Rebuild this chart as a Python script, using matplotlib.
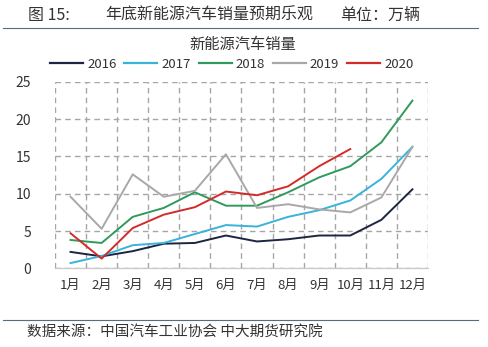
import matplotlib
matplotlib.use("Agg")
import matplotlib.pyplot as plt
from matplotlib.lines import Line2D
from matplotlib.ticker import FixedLocator

plt.rcParams['font.family'] = ['Noto Sans CJK SC', 'DejaVu Sans']

# ── Data (万辆) ───────────────────────────────────────────────
months = ["1月", "2月", "3月", "4月", "5月", "6月",
          "7月", "8月", "9月", "10月", "11月", "12月"]
years = ["2016", "2017", "2018", "2019", "2020"]
sales_2016 = [2.2, 1.6, 2.3, 3.3, 3.4, 4.4, 3.6, 3.9, 4.4, 4.4, 6.5, 10.6]
sales_2017 = [0.7, 1.65, 3.1, 3.4, 4.6, 5.8, 5.6, 6.9, 7.8, 9.1, 12.0, 16.3]
sales_2018 = [3.8, 3.4, 6.9, 8.1, 10.2, 8.4, 8.4, 10.2, 12.2, 13.7, 16.9, 22.5]
sales_2019 = [9.6, 5.3, 12.6, 9.6, 10.4, 15.3, 8.1, 8.6, 7.9, 7.5, 9.5, 16.3]
sales_2020 = [4.7, 1.3, 5.4, 7.2, 8.2, 10.3, 9.8, 11.0, 13.7, 16.0]
colors = ["#1c2541", "#38b3d9", "#2f9a5c", "#a8a8a8", "#d42a2a"]

series = [sales_2016, sales_2017, sales_2018, sales_2019, sales_2020]

fig = plt.figure(figsize=(4.88, 3.47), dpi=100)
ax = fig.add_axes([0.1127, 0.2268, 0.7643, 0.537])

x = list(range(len(months)))
for vals, c, lab in zip(series, colors, years):
    ax.plot(x[:len(vals)], vals, color=c, lw=1.4, label=lab, zorder=3)

ax.set_xlim(-0.5, 11.5)
ax.set_ylim(0, 25)
ax.set_yticks([0, 5, 10, 15, 20, 25])
ax.set_xticks(x)
ax.set_xticklabels(months, fontsize=9.5, color="#333333")
ax.xaxis.set_minor_locator(FixedLocator([i - 0.5 for i in range(13)]))
ax.tick_params(axis="y", labelsize=10, colors="#333333", length=0, pad=17)
ax.tick_params(axis="x", which="both", length=0, pad=8)

# dashed grid: horizontal at y ticks, vertical at category boundaries
ax.set_axisbelow(True)
ax.grid(axis="y", which="major", color="#a6a6a6", lw=1.0, ls=(0, (4, 3)))
ax.grid(axis="x", which="minor", color="#a6a6a6", lw=1.0, ls=(0, (4, 3)))
ax.grid(axis="x", which="major", visible=False)

for s in ["top", "right", "left"]:
    ax.spines[s].set_visible(False)
ax.spines["bottom"].set_color("#c8c8c8")
ax.spines["bottom"].set_linewidth(0.9)

handles = [Line2D([], [], color=c, lw=1.6) for c in colors]
fig.legend(handles, years, loc="center", bbox_to_anchor=(0.475, 0.815), ncol=5,
           frameon=False, fontsize=9.5, handlelength=2.5, handletextpad=0.3,
           columnspacing=0.6, labelcolor="#333333")

fig.text(0.497, 0.872, "新能源汽车销量", ha="center", va="center",
         fontsize=11, color="#333333")

fig.text(0.057, 0.955, "图 15:", ha="left", va="center",
         fontsize=11.5, color="#333333")
fig.text(0.215, 0.955, "年底新能源汽车销量预期乐观", ha="left", va="center",
         fontsize=11.5, color="#333333")
fig.text(0.697, 0.955, "单位：万辆", ha="left", va="center",
         fontsize=11.5, color="#333333")
fig.add_artist(Line2D([0.006, 0.98], [0.918, 0.918], color="#5a6b7b", lw=0.8))

fig.add_artist(Line2D([0.006, 0.98], [0.078, 0.078], color="#5a6b7b", lw=0.8))
fig.text(0.055, 0.043, "数据来源：中国汽车工业协会 中大期货研究院",
         ha="left", va="center", fontsize=10.5, color="#333333")

fig.savefig("out.png", dpi=100)
